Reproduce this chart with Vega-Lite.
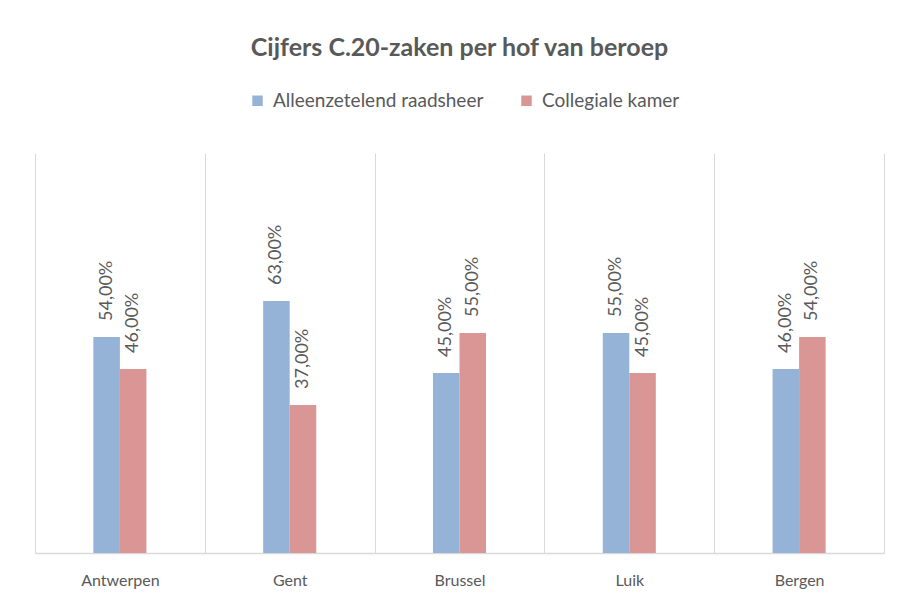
{
  "$schema": "https://vega.github.io/schema/vega-lite/v6.json",
  "width": 849,
  "height": 400,
  "autosize": {"type": "none"},
  "padding": {"left": 35, "top": 153, "right": 24, "bottom": 54},
  "background": "white",
  "config": {
    "font": "Lato",
    "view": {"stroke": null},
    "locale": {"number": {"decimal": ",", "thousands": ".", "grouping": [3], "currency": ["€ ", ""]}}
  },
  "title": {
    "text": "Cijfers C.20-zaken per hof van beroep",
    "fontSize": 25,
    "fontWeight": "bold",
    "color": "#595959",
    "anchor": "middle",
    "offset": 30
  },
  "data": {
    "values": [
      {"hof": "Antwerpen", "type": "Alleenzetelend raadsheer", "value": 0.54},
      {"hof": "Antwerpen", "type": "Collegiale kamer", "value": 0.46},
      {"hof": "Gent", "type": "Alleenzetelend raadsheer", "value": 0.63},
      {"hof": "Gent", "type": "Collegiale kamer", "value": 0.37},
      {"hof": "Brussel", "type": "Alleenzetelend raadsheer", "value": 0.45},
      {"hof": "Brussel", "type": "Collegiale kamer", "value": 0.55},
      {"hof": "Luik", "type": "Alleenzetelend raadsheer", "value": 0.55},
      {"hof": "Luik", "type": "Collegiale kamer", "value": 0.45},
      {"hof": "Bergen", "type": "Alleenzetelend raadsheer", "value": 0.46},
      {"hof": "Bergen", "type": "Collegiale kamer", "value": 0.54}
    ]
  },
  "encoding": {
    "x": {
      "field": "hof",
      "type": "nominal",
      "sort": null,
      "scale": {"paddingInner": 0, "paddingOuter": 0},
      "axis": {
        "title": null,
        "labelAngle": 0,
        "ticks": false,
        "tickBand": "extent",
        "grid": true,
        "gridColor": "#d9d9d9",
        "gridWidth": 1,
        "domainColor": "#d9d9d9",
        "domainWidth": 1.5,
        "labelFontSize": 16,
        "labelColor": "#595959",
        "labelPadding": 19
      }
    },
    "xOffset": {
      "field": "type",
      "type": "nominal",
      "scale": {
        "domain": ["_l2", "_l1", "Alleenzetelend raadsheer", "Collegiale kamer", "_r1", "_r2"],
        "paddingInner": 0,
        "paddingOuter": 0.2
      }
    },
    "y": {
      "field": "value",
      "type": "quantitative",
      "scale": {"domain": [0, 1]},
      "axis": null
    }
  },
  "layer": [
    {
      "mark": {"type": "bar"},
      "encoding": {
        "color": {
          "field": "type",
          "type": "nominal",
          "sort": ["Alleenzetelend raadsheer", "Collegiale kamer"],
          "scale": {"range": ["#95B3D7", "#D99694"]},
          "legend": {
            "title": null,
            "orient": "none",
            "legendX": 213,
            "legendY": -62,
            "direction": "horizontal",
            "symbolType": "square",
            "symbolSize": 110,
            "symbolStrokeWidth": 0,
            "labelFontSize": 19,
            "labelColor": "#595959",
            "labelLimit": 400,
            "columnPadding": 33,
            "labelOffset": 6
          }
        }
      }
    },
    {
      "mark": {"type": "text", "angle": 270, "align": "left", "baseline": "middle", "dx": 16, "fontSize": 18, "color": "#595959"},
      "encoding": {
        "text": {"field": "value", "type": "quantitative", "format": ".2%"}
      }
    }
  ]
}
